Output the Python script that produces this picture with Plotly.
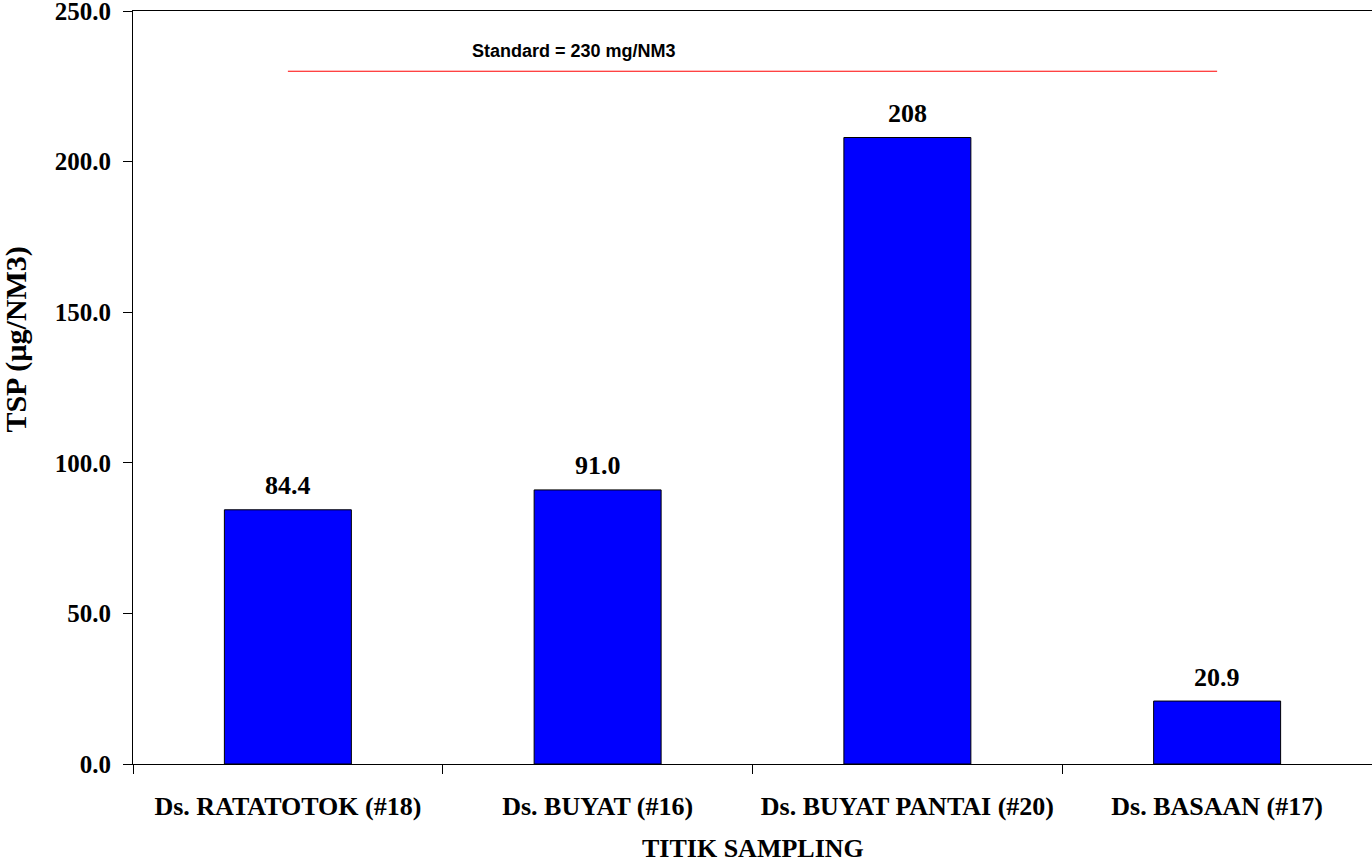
import plotly.graph_objects as go

sites = ['Ds. RATATOTOK (#18)', 'Ds. BUYAT (#16)', 'Ds. BUYAT PANTAI (#20)', 'Ds. BASAAN (#17)']
tsp = [84.4, 91.0, 208, 20.9]
tsp_labels = ['84.4', '91.0', '208', '20.9']
standard = [230, 230, 230, 230]

serif = 'Times New Roman, Liberation Serif, serif'
sans = 'Arial, Liberation Sans, sans-serif'

fig = go.Figure()
fig.add_trace(go.Bar(
    x=sites, y=tsp, width=0.41,
    marker=dict(color='#0000FF', line=dict(color='black', width=1)),
    showlegend=False, hoverinfo='skip'
))
fig.add_trace(go.Scatter(
    x=sites, y=standard, mode='lines',
    line=dict(color='#FF0000', width=1),
    showlegend=False, hoverinfo='skip'
))

# value labels above the bars
for s, v, lab in zip(sites, tsp, tsp_labels):
    fig.add_annotation(x=s, y=v, text=f'<b>{lab}</b>', showarrow=False,
                       yanchor='middle', yshift=24,
                       font=dict(family=serif, size=26, color='black'))

fig.add_annotation(x=0.356, y=230, xref='paper', yref='y', text='<b>Standard = 230 mg/NM3</b>',
                   showarrow=False, yanchor='middle', yshift=20,
                   font=dict(family=sans, size=18, color='black'))

fig.add_annotation(x=0.5, y=-0.112, xref='paper', yref='paper', text='<b>TITIK SAMPLING</b>',
                   showarrow=False, yanchor='middle',
                   font=dict(family=serif, size=26, color='black'))
fig.add_annotation(x=-0.094, y=0.563, xref='paper', yref='paper', text='<b>TSP (µg/NM3)</b>',
                   showarrow=False, textangle=-90, xanchor='center', yanchor='middle',
                   font=dict(family=serif, size=30, color='black'))

fig.update_xaxes(
    type='category', showline=True, linecolor='black', linewidth=1, mirror=True,
    ticks='outside', tickson='boundaries', ticklen=9, tickcolor='black',
    tickfont=dict(family=serif, size=26, color='black'), showgrid=False,
    tickprefix='<b>', ticksuffix='</b>', automargin=False, ticklabelstandoff=19
)
fig.update_yaxes(
    range=[0, 250], dtick=50, tickformat='.1f', showline=True, linecolor='black', linewidth=1,
    ticks='outside', ticklen=9, tickcolor='black', showgrid=False, zeroline=False,
    tickfont=dict(family=serif, size=25, color='black'),
    tickprefix='<b>', ticksuffix='</b>', automargin=False, ticklabelstandoff=7,
    ticklabeloverflow='allow'
)
fig.update_layout(
    width=1372, height=862, plot_bgcolor='white', paper_bgcolor='white',
    margin=dict(l=133, r=0, t=11, b=98), bargap=0.59
)
fig.write_html('out.html', config={'displayModeBar': False},
               post_script="document.body.style.margin='0';")
